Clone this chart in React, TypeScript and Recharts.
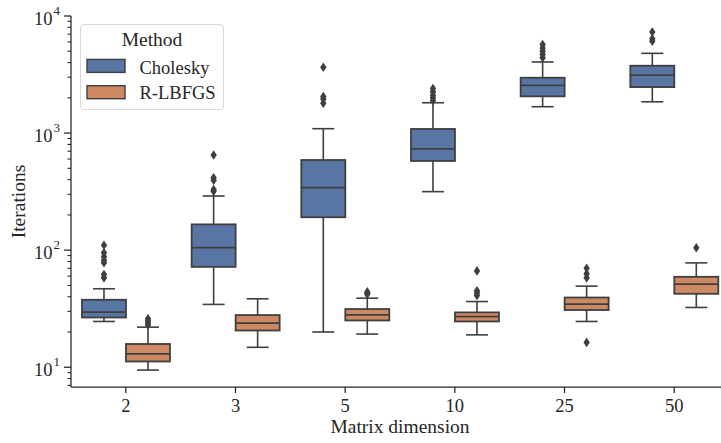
import { BarChart, Bar, XAxis, YAxis, Legend, Label } from 'recharts'

const FONT = '"Liberation Serif", "Times New Roman", serif'
const INK = '#262626'
const LINE = '#3f3f3f'

const categories = ['2', '3', '5', '10', '25', '50']
const methods = ['Cholesky', 'R-LBFGS']
const methodColors = ['#5875a4', '#cc8963']

// Cholesky box statistics, per matrix dimension
const choleskyLow = [24.6, 34.4, 20, 316, 1680, 1850]
const choleskyQ1 = [26.6, 72, 191, 578, 2060, 2470]
const choleskyMedian = [29.6, 105, 342, 733, 2560, 3130]
const choleskyQ3 = [37.7, 166, 589, 1084, 2970, 3760]
const choleskyHigh = [46.8, 290, 1090, 1816, 4050, 4800]
const choleskyOutliers = [
  [58, 62, 78, 82, 88, 95, 110],
  [318, 330, 395, 415, 650],
  [1800, 1950, 2050, 3650],
  [1900, 2000, 2100, 2250, 2400],
  [4400, 4700, 5000, 5300, 5700],
  [6100, 6400, 7300],
]

// R-LBFGS box statistics
const rlbfgsLow = [9.46, 14.8, 19.2, 18.9, 24.6, 32.4]
const rlbfgsQ1 = [11.2, 20.6, 25.1, 24.6, 30.8, 42.4]
const rlbfgsMedian = [13.0, 23.8, 28.0, 27.1, 34.6, 51.3]
const rlbfgsQ3 = [15.8, 27.9, 31.4, 29.4, 39.4, 59.2]
const rlbfgsHigh = [22.0, 38.4, 38.9, 36.4, 49.3, 77.9]
const rlbfgsOutliers = [
  [23, 24, 25, 26],
  [],
  [42, 43, 44],
  [41, 43, 45, 66.5],
  [16.3, 58, 63, 70],
  [105],
]

const yMajorTicks = [10, 100, 1000, 10000]
const yMinorTicks = [7, 8, 9, 20, 30, 40, 50, 60, 70, 80, 90, 200, 300, 400, 500, 600, 700, 800, 900, 2000, 3000, 4000, 5000, 6000, 7000, 8000, 9000]

interface BoxStats {
  low: number[]
  q1: number[]
  median: number[]
  q3: number[]
  high: number[]
  outliers: number[][]
}

const cholesky: BoxStats = {
  low: choleskyLow, q1: choleskyQ1, median: choleskyMedian,
  q3: choleskyQ3, high: choleskyHigh, outliers: choleskyOutliers,
}
const rlbfgs: BoxStats = {
  low: rlbfgsLow, q1: rlbfgsQ1, median: rlbfgsMedian,
  q3: rlbfgsQ3, high: rlbfgsHigh, outliers: rlbfgsOutliers,
}

// each bar spans the whisker range; the shape draws the rest of the box on it
const data = categories.map((category, i) => ({
  category,
  cholesky: [choleskyLow[i], choleskyHigh[i]],
  rlbfgs: [rlbfgsLow[i], rlbfgsHigh[i]],
}))

function makeBoxShape(stats: BoxStats, fill: string) {
  return (props: any) => {
    const { x, y, width, height, index } = props
    const lo = stats.low[index]
    const hi = stats.high[index]
    const yHi = y
    const yLo = y + height
    const span = Math.log10(hi) - Math.log10(lo)
    // log-linear mapping taken from the bar's own scaled ends
    const py = (v: number) => yHi + ((yLo - yHi) * (Math.log10(hi) - Math.log10(v))) / span
    const cx = x + width / 2
    const cap = width / 4
    const top = py(stats.q3[index])
    const bottom = py(stats.q1[index])
    const med = py(stats.median[index])
    return (
      <g>
        <line x1={cx} x2={cx} y1={yHi} y2={top} stroke={LINE} strokeWidth={1.6} />
        <line x1={cx} x2={cx} y1={bottom} y2={yLo} stroke={LINE} strokeWidth={1.6} />
        <line x1={cx - cap} x2={cx + cap} y1={yHi} y2={yHi} stroke={LINE} strokeWidth={1.6} />
        <line x1={cx - cap} x2={cx + cap} y1={yLo} y2={yLo} stroke={LINE} strokeWidth={1.6} />
        <rect x={x} y={top} width={width} height={bottom - top} fill={fill} stroke={LINE} strokeWidth={1.8} />
        <line x1={x} x2={x + width} y1={med} y2={med} stroke={LINE} strokeWidth={1.8} />
        {stats.outliers[index].map((v, k) => {
          const oy = py(v)
          return (
            <polygon
              key={k}
              points={`${cx},${oy - 4.8} ${cx + 3.2},${oy} ${cx},${oy + 4.8} ${cx - 3.2},${oy}`}
              fill={LINE}
            />
          )
        })}
      </g>
    )
  }
}

const choleskyShape = makeBoxShape(cholesky, methodColors[0])
const rlbfgsShape = makeBoxShape(rlbfgs, methodColors[1])

function YTick(props: any) {
  const { x, y, payload } = props
  const v = payload.value
  const major = yMajorTicks.includes(v)
  if (!major) {
    return <line x1={x - 3.5} x2={x} y1={y} y2={y} stroke={INK} strokeWidth={1.1} />
  }
  const exp = Math.round(Math.log10(v))
  return (
    <g>
      <line x1={x - 7} x2={x} y1={y} y2={y} stroke={INK} strokeWidth={1.25} />
      <text x={x - 18.5} y={y + 9} textAnchor="end" fontSize={18.5} fontFamily={FONT} fill={INK}>
        10
      </text>
      <text x={x - 17.5} y={y - 1} fontSize={13} fontFamily={FONT} fill={INK}>
        {exp}
      </text>
    </g>
  )
}

function XTick(props: any) {
  const { x, payload } = props
  return (
    <g>
      <line x1={x} x2={x} y1={387} y2={393} stroke={INK} strokeWidth={1.25} />
      <text x={x} y={412} textAnchor="middle" fontSize={18.5} fontFamily={FONT} fill={INK}>
        {payload.value}
      </text>
    </g>
  )
}

const renderYLabel = (props: any) => {
  const { viewBox } = props
  const cx = viewBox.x + 18
  const cy = viewBox.y + viewBox.height / 2
  return (
    <text
      x={cx}
      y={cy}
      transform={`rotate(-90 ${cx} ${cy})`}
      textAnchor="middle"
      dominantBaseline="central"
      fontSize={19.5}
      fontFamily={FONT}
      fill={INK}
    >
      Iterations
    </text>
  )
}

const renderXLabel = (props: any) => {
  const { viewBox } = props
  return (
    <text
      x={viewBox.x + viewBox.width / 2}
      y={433}
      textAnchor="middle"
      fontSize={19.5}
      fontFamily={FONT}
      fill={INK}
    >
      Matrix dimension
    </text>
  )
}

const renderLegend = () => (
  <svg width={145} height={87} style={{ display: 'block' }}>
    <rect x={0.5} y={0.5} width={143} height={85} rx={3.5} fill="#fff" fillOpacity={0.8} stroke="#d9d9d9" strokeWidth={1} />
    <text x={72} y={22} textAnchor="middle" fontSize={19.5} fontFamily={FONT} fill={INK}>
      Method
    </text>
    {methods.map((m, i) => (
      <g key={m}>
        <rect x={7} y={35.4 + i * 26.3} width={38} height={13} fill={methodColors[i]} stroke={LINE} strokeWidth={1.4} />
        <text x={59.5} y={49.7 + i * 25.6} fontSize={18.5} fontFamily={FONT} fill={INK}>
          {m}
        </text>
      </g>
    ))}
  </svg>
)

export default function App() {
  return (
    <div style={{ position: 'absolute', left: 0, top: 0, width: 721, height: 443, overflow: 'hidden', background: '#fff' }}>
      <BarChart
        width={729}
        height={443}
        data={data}
        margin={{ top: 16, right: 0, bottom: 0, left: 0 }}
        barCategoryGap="10%"
        barGap={0}
      >
        <XAxis
          dataKey="category"
          height={56}
          axisLine={{ stroke: INK, strokeWidth: 1.25 }}
          tickLine={false}
          tick={<XTick />}
          interval={0}
          label={<Label content={renderXLabel} />}
        />
        <YAxis
          type="number"
          scale="log"
          domain={[6.78, 10000]}
          allowDataOverflow
          ticks={[...yMinorTicks, ...yMajorTicks]}
          interval={0}
          width={71}
          tickSize={0}
          tickMargin={0}
          tickLine={false}
          axisLine={{ stroke: INK, strokeWidth: 1.25 }}
          tick={<YTick />}
          label={<Label content={renderYLabel} />}
        />
        <Legend
          layout="vertical"
          align="center"
          verticalAlign="middle"
          content={renderLegend}
          wrapperStyle={{ position: 'absolute', left: 80, top: 24, width: 145, height: 87 }}
        />
        <Bar dataKey="cholesky" isAnimationActive={false} shape={choleskyShape} />
        <Bar dataKey="rlbfgs" isAnimationActive={false} shape={rlbfgsShape} />
      </BarChart>
    </div>
  )
}
